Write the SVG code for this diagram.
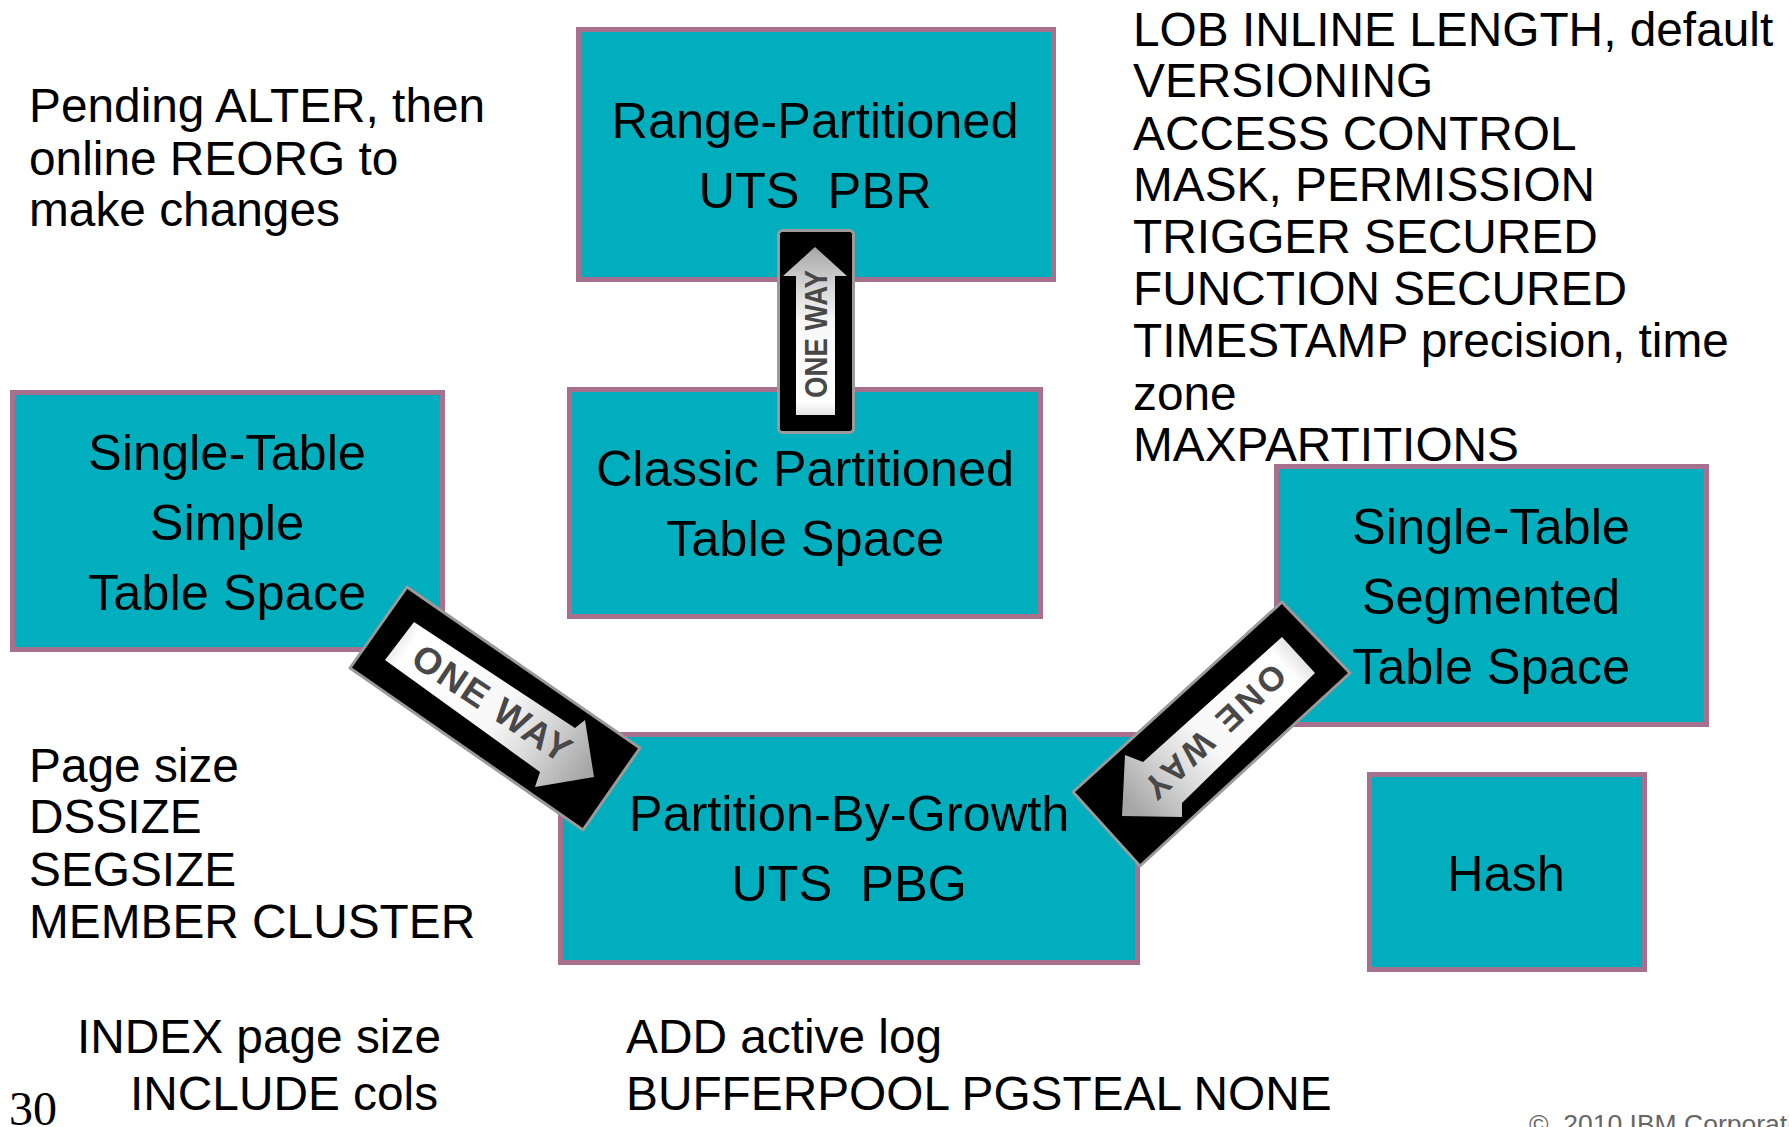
<svg xmlns="http://www.w3.org/2000/svg" width="1789" height="1127" viewBox="0 0 1789 1127">
<style>
text{font-family:"Liberation Sans",Arial,sans-serif;fill:#000}
.box{fill:#00aebd;stroke:#a7708f;stroke-width:5}
.t{font-size:50.5px;text-anchor:middle}
.n{font-size:47.800px}
.sign{fill:#000;stroke:#9a9a9a;stroke-width:3;stroke-linejoin:round}
.s{fill:#484848;font-weight:bold;text-anchor:middle}
</style>
<defs>
<linearGradient id="fade" gradientUnits="userSpaceOnUse">
<stop offset="0" stop-color="#e4e4e4"/><stop offset=".08" stop-color="#fff"/><stop offset=".55" stop-color="#f8f8f8"/><stop offset=".75" stop-color="#d8d8d8"/><stop offset="1" stop-color="#a6a6a6"/>
</linearGradient>
<linearGradient id="fade1" href="#fade" x1="392" y1="640" x2="585" y2="775"/>
<linearGradient id="fade2" href="#fade" x1="1298" y1="655" x2="1130" y2="805"/>
<linearGradient id="fade3" href="#fade" x1="815" y1="415" x2="815" y2="247"/>
</defs>
<rect width="1789" height="1127" fill="#fff"/>
<g id="node-range"><rect class="box" x="578.500" y="29.500" width="475" height="250"/><text class="t" x="815" y="138">Range-Partitioned</text><text class="t" x="815" y="208" xml:space="preserve">UTS  PBR</text></g>
<g id="node-classic"><rect class="box" x="569.500" y="389.500" width="471" height="227"/><text class="t" x="805" y="486">Classic Partitioned</text><text class="t" x="805" y="556">Table Space</text></g>
<g id="node-simple"><rect class="box" x="12.500" y="392.500" width="430" height="257"/><text class="t" x="227" y="470">Single-Table</text><text class="t" x="227" y="540">Simple</text><text class="t" x="227" y="610">Table Space</text></g>
<g id="node-segmented"><rect class="box" x="1276.500" y="466.500" width="430" height="258"/><text class="t" x="1491" y="544">Single-Table</text><text class="t" x="1491" y="614">Segmented</text><text class="t" x="1491" y="684">Table Space</text></g>
<g id="node-pbg"><rect class="box" x="560.500" y="734.500" width="577" height="228"/><text class="t" x="849" y="831">Partition-By-Growth</text><text class="t" x="849" y="901" xml:space="preserve">UTS  PBG</text></g>
<g id="node-hash"><rect class="box" x="1369.500" y="774.500" width="275" height="195"/><text class="t" x="1506" y="891">Hash</text></g>
<g id="connectors">
<g id="sign-classic-range"><rect class="sign" x="778.500" y="230.500" width="75" height="202" rx="4"/><polygon fill="url(#fade3)" points="796,415 796,276 783,276 815,247 847,276 835,276 835,415"/><text class="s" transform="translate(827 334) rotate(-90)" font-size="31" textLength="128" lengthAdjust="spacingAndGlyphs">ONE WAY</text></g>
<g id="sign-simple-pbg"><polygon class="sign" points="407,587 640,748 583,830 350,668"/><polygon fill="url(#fade1)" points="414,622 575,728 585,720 594,777 535,787 540,772 385,660"/><text class="s" transform="translate(485 714) rotate(33.500)" font-size="37" textLength="182" lengthAdjust="spacing">ONE WAY</text></g>
<g id="sign-segmented-pbg"><polygon class="sign" points="1282,602 1350,673 1140,866 1073,792"/><polygon fill="url(#fade2)" points="1282,637 1315,673 1182,803 1182,817 1122,816 1125,755 1143,762"/><text class="s" transform="translate(1207 723) rotate(137)" font-size="34" textLength="180" lengthAdjust="spacing">ONE WAY</text></g>
</g>
<g id="notes">
<text class="n" x="29" y="122">Pending ALTER, then</text><text class="n" x="29" y="175">online REORG to</text><text class="n" x="29" y="226">make changes</text>
<text class="n" x="1133" y="46">LOB INLINE LENGTH, default</text><text class="n" x="1133" y="97">VERSIONING</text><text class="n" x="1133" y="150">ACCESS CONTROL</text><text class="n" x="1133" y="201">MASK, PERMISSION</text><text class="n" x="1133" y="253">TRIGGER SECURED</text><text class="n" x="1133" y="305">FUNCTION SECURED</text><text class="n" x="1133" y="357">TIMESTAMP precision, time</text><text class="n" x="1133" y="410">zone</text><text class="n" x="1133" y="461">MAXPARTITIONS</text>
<text class="n" x="29" y="782">Page size</text><text class="n" x="29" y="833">DSSIZE</text><text class="n" x="29" y="886">SEGSIZE</text><text class="n" x="29" y="938">MEMBER CLUSTER</text>
<text class="n" x="77" y="1053">INDEX page size</text><text class="n" x="130" y="1110">INCLUDE cols</text>
<text class="n" x="626" y="1053">ADD active log</text><text class="n" x="626" y="1110">BUFFERPOOL PGSTEAL NONE</text>
<text x="9" y="1125" font-size="48" style="font-family:'Liberation Serif',serif">30</text>
<text x="1529" y="1133" font-size="26.500" style="fill:#666" xml:space="preserve">©  2010 IBM Corporation</text>
</g>
</svg>
